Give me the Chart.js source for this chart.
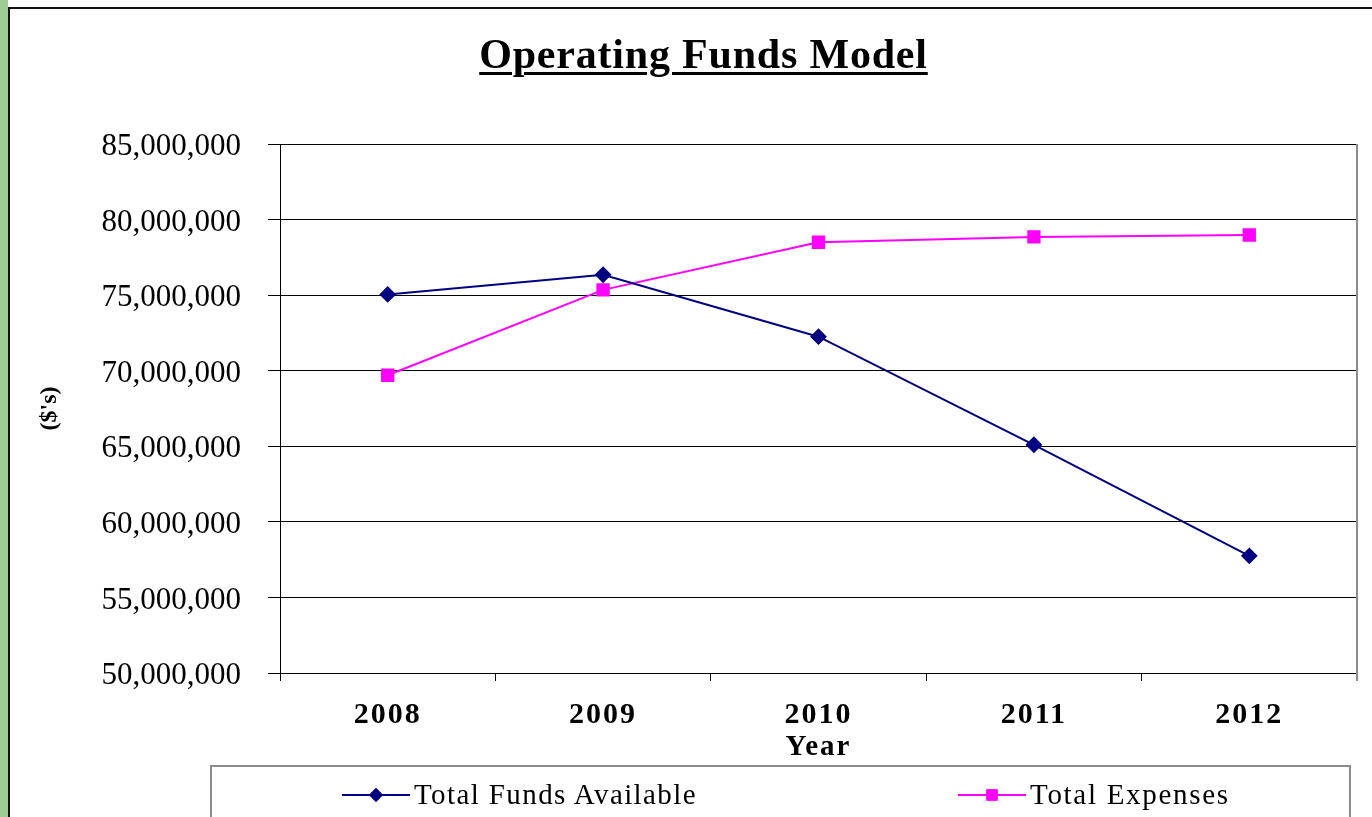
<!DOCTYPE html>
<html>
<head>
<meta charset="utf-8">
<script src="https://cdn.jsdelivr.net/npm/chart.js@4.4.0/dist/chart.umd.min.js"></script>
<style>
  html, body { margin: 0; padding: 0; background: #fff; overflow: hidden; }
  body { width: 1372px; height: 817px; position: relative; font-family: "Liberation Serif", "Times New Roman", serif; }
  #strip { position: absolute; left: 0; top: 0; width: 8px; height: 817px; background: #9dcc94; }
  #frame { position: absolute; left: 8px; top: 7px; width: 1372px; height: 820px; border-left: 2px solid #111; border-top: 2px solid #111; }
  #title { position: absolute; left: 35px; width: 1337px; top: 30px; text-align: center; font-size: 42px; font-weight: bold; letter-spacing: 0.8px; text-decoration: underline; text-decoration-thickness: 3px; text-underline-offset: 4px; }
  #wrap { position: absolute; left: 9px; top: 8px; width: 1363px; height: 809px; }
  #legend { position: absolute; left: 210px; top: 765px; width: 1141px; height: 80px; border: 2px solid #8c8c8c; box-sizing: border-box; }
  .item { position: absolute; top: 11px; font-size: 29px; white-space: nowrap; display: flex; align-items: center; }
  .item canvas { margin-right: 4px; }
</style>
</head>
<body>
<div id="strip"></div>
<div id="frame"></div>
<div id="wrap"><canvas id="chart"></canvas></div>
<div id="title">Operating Funds Model</div>
<div id="legend"></div>
<script>
// Values
const years = ['2008', '2009', '2010', '2011', '2012'];
const fundsAvailable = [75050000, 76350000, 72250000, 65100000, 57750000];
const totalExpenses = [69700000, 75350000, 78500000, 78850000, 78980000];
const yTicks = [50000000, 55000000, 60000000, 65000000, 70000000, 75000000, 80000000, 85000000];

const serif = '"Liberation Serif", "Times New Roman", serif';

// gray right edge of the plot
const rightEdge = {
  id: 'rightEdge',
  afterDraw(chart) {
    const a = chart.chartArea;
    const c = chart.ctx;
    c.save();
    c.strokeStyle = '#8c8c8c';
    c.lineWidth = 2;
    c.beginPath();
    c.moveTo(a.right, a.top);
    c.lineTo(a.right, a.bottom + 8);
    c.stroke();
    c.restore();
  }
};

// the original's x labels are drawn a bit wider; widen them with letter spacing
const wideX = {
  id: 'wideX',
  beforeDraw(chart) {
    const sx = chart.scales.x;
    if (sx._wide) return;
    sx._wide = true;
    ['drawLabels', 'drawTitle'].forEach(fn => {
      const orig = sx[fn].bind(sx);
      sx[fn] = function(area) {
        const c = chart.ctx;
        const prev = c.letterSpacing;
        c.letterSpacing = '2px';
        orig(area);
        c.letterSpacing = prev || '0px';
      };
    });
  }
};

const chart = new Chart(document.getElementById('chart'), {
  type: 'line',
  data: {
    labels: years,
    datasets: [{
      label: 'Total Funds Available',
      data: fundsAvailable,
      borderColor: '#000080',
      backgroundColor: '#000080',
      borderWidth: 2,
      pointStyle: 'rectRot',
      pointRadius: 7,
      pointHoverRadius: 7,
      tension: 0
    }, {
      label: 'Total Expenses',
      data: totalExpenses,
      borderColor: '#ff00ff',
      backgroundColor: '#ff00ff',
      borderWidth: 2,
      pointStyle: 'rect',
      pointRadius: 8,
      pointHoverRadius: 8,
      tension: 0
    }]
  },
  options: {
    responsive: true,
    maintainAspectRatio: false,
    animation: false,
    layout: { padding: { top: 136, right: 15, bottom: 55, left: 0 } },
    plugins: {
      legend: { display: false },
      title: { display: false },
      tooltip: { enabled: false }
    },
    scales: {
      x: {
        offset: true,
        afterFit(scale) { scale.height = 89; },
        grid: { offset: true, drawOnChartArea: false, drawTicks: true, tickLength: 8, color: '#000', lineWidth: 1 },
        border: { color: '#000', width: 1 },
        ticks: { color: '#000', padding: 16, font: { family: serif, size: 30, weight: 'bold' } },
        title: { display: true, text: 'Year', color: '#000', padding: { top: 0, bottom: 0 }, font: { family: serif, size: 29, weight: 'bold', lineHeight: 1 } }
      },
      y: {
        min: 50000000,
        max: 85000000,
        afterFit(scale) { scale.width = 271; },
        afterBuildTicks(scale) { scale.ticks = yTicks.map(v => ({ value: v })); },
        grid: { color: '#000', lineWidth: 1, tickLength: 12 },
        border: { color: '#000', width: 1 },
        ticks: {
          color: '#000',
          padding: 27,
          labelOffset: 3,
          font: { family: serif, size: 31 },
          callback: v => v.toLocaleString('en-US')
        },
        title: { display: true, text: "($'s)", color: '#000', padding: { top: 29, bottom: 0 }, font: { family: serif, size: 24, weight: 'bold', lineHeight: 1 } }
      }
    }
  },
  plugins: [rightEdge, wideX]
});

// legend built from the datasets
const legendPos = [130, 746];
const legendSpacing = ['1.4px', '1.7px'];
const legend = document.getElementById('legend');
chart.data.datasets.forEach((ds, i) => {
  const item = document.createElement('div');
  item.className = 'item';
  item.style.left = legendPos[i] + 'px';
  item.style.letterSpacing = legendSpacing[i];
  const mk = document.createElement('canvas');
  mk.width = 68; mk.height = 20;
  const c = mk.getContext('2d');
  c.strokeStyle = ds.borderColor;
  c.lineWidth = 2;
  c.beginPath(); c.moveTo(0, 10); c.lineTo(68, 10); c.stroke();
  c.fillStyle = ds.backgroundColor;
  Chart.helpers.drawPoint(c, { pointStyle: ds.pointStyle, radius: ds.pointRadius, rotation: 0 }, 34, 10);
  c.fill();
  item.appendChild(mk);
  const t = document.createElement('span');
  t.textContent = ds.label;
  item.appendChild(t);
  legend.appendChild(item);
});
</script>
</body>
</html>
